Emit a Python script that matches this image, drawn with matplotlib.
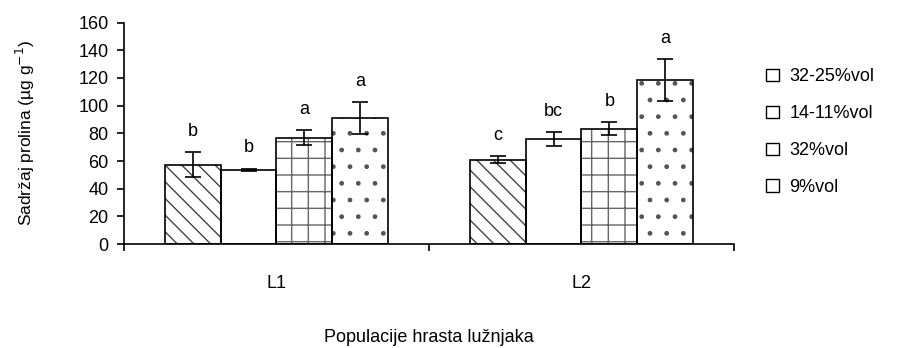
import matplotlib.pyplot as plt
import numpy as np
from matplotlib.patches import Patch

plt.rcParams['font.family'] = ['Liberation Sans', 'DejaVu Sans']
plt.rcParams['hatch.linewidth'] = 1.0

# populations and treatments
populations = ['L1', 'L2']
treatments = ['32-25%vol', '14-11%vol', '32%vol', '9%vol']

# proline content (ug/g) per treatment, one value per population
v_32_25 = [57.5, 61.0]
v_14_11 = [53.5, 76.0]
v_32 = [77.0, 83.5]
v_9 = [91.0, 118.5]

e_32_25 = [9.0, 2.5]
e_14_11 = [1.0, 5.0]
e_32 = [5.3, 4.5]
e_9 = [11.5, 15.0]

# significance letters
l_32_25 = ['b', 'c']
l_14_11 = ['b', 'bc']
l_32 = ['a', 'b']
l_9 = ['a', 'a']

values = [v_32_25, v_14_11, v_32, v_9]
errors = [e_32_25, e_14_11, e_32, e_9]
letters = [l_32_25, l_14_11, l_32, l_9]
hatches = ['\\\\', '', '+', '.']
hcolors = ['#444444', 'white', '#666666', '#555555']

fig = plt.figure(figsize=(8.97, 3.48), dpi=100)
ax = fig.add_axes([0.1382, 0.2985, 0.68, 0.6365])

w = 0.183
centers = np.arange(len(populations)) + 0.5
for i in range(len(treatments)):
    x = centers + (i - 1.5) * w
    # hatch layer in grey, then black outline on top
    ax.bar(x, values[i], width=w, color='white', edgecolor=hcolors[i],
           linewidth=0, hatch=hatches[i], zorder=2)
    ax.bar(x, values[i], width=w, fill=False, edgecolor='black',
           linewidth=1.2, zorder=2.5)
    ax.errorbar(x, values[i], yerr=errors[i], fmt='none', ecolor='black',
                elinewidth=1.2, capsize=5.5, capthick=1.2, zorder=3)
    for j in range(len(populations)):
        top = values[i][j] + errors[i][j]
        ax.text(x[j], top + 9, letters[i][j], ha='center', va='bottom',
                fontsize=13)

ax.set_xlim(0, 2)
ax.set_ylim(0, 160)
ax.set_yticks(np.arange(0, 161, 20))
ax.set_xticks([0, 1, 2])
ax.set_xticklabels([])
ax.set_xticks(centers, minor=True)
ax.set_xticklabels(populations, minor=True)
ax.tick_params(axis='x', which='minor', length=0, pad=22, labelsize=13)
ax.tick_params(axis='x', which='major', length=5, direction='out', width=1.2)
ax.tick_params(axis='y', length=5, direction='out', width=1.2, labelsize=13, pad=6)
for s in ['top', 'right']:
    ax.spines[s].set_visible(False)
for s in ['left', 'bottom']:
    ax.spines[s].set_linewidth(1.2)

ax.set_ylabel('Sadržaj prolina (µg g$^{-1}$)', fontsize=12.5, labelpad=30)
ax.set_xlabel('Populacije hrasta lužnjaka', fontsize=13, labelpad=27)

handles = [Patch(facecolor='white', edgecolor='black', linewidth=1.0)
           for _ in treatments]
fig.legend(handles, treatments, loc='upper left', bbox_to_anchor=(0.836, 0.85),
           frameon=False, fontsize=13, handlelength=0.7, handleheight=0.7,
           handletextpad=0.6, labelspacing=1.1)

fig.savefig('out.png', dpi=100)
